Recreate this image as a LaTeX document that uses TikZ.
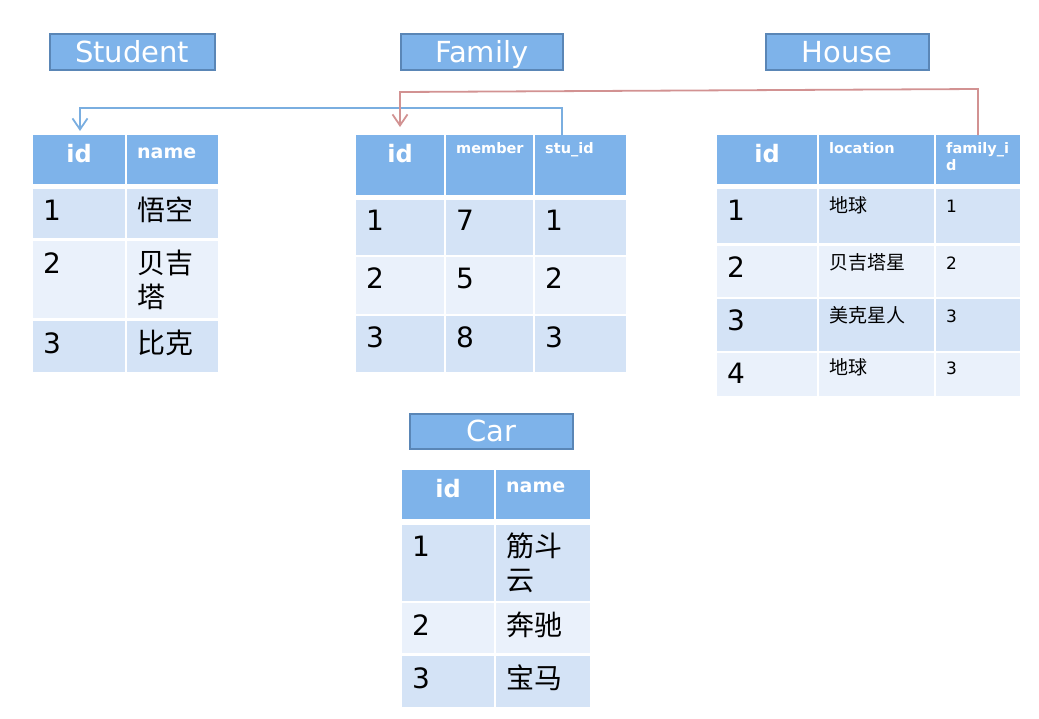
\documentclass[tikz,border=0pt]{standalone}
\usepackage{fontspec}
\setmainfont{DejaVu Sans}
\newfontfamily\cjk{Noto Sans CJK SC}
\usetikzlibrary{arrows.meta}
\definecolor{hdr}{RGB}{126,179,234}
\definecolor{rowa}{RGB}{212,227,246}
\definecolor{rowb}{RGB}{234,241,251}
\definecolor{ttlborder}{RGB}{90,134,182}
\definecolor{fkblue}{RGB}{122,174,224}
\definecolor{fkred}{RGB}{210,146,146}
\tikzset{
  cellbox/.style={rectangle, inner sep=0pt, outer sep=0pt, anchor=north west, draw=none},
  titlebox/.style={rectangle, fill=hdr, draw=ttlborder, line width=1.5pt, inner sep=0pt, anchor=north west,
    text=white, font=\fontsize{29}{34}\selectfont, text height=21pt, text depth=0pt},
  bigtxt/.style={anchor=base west, inner sep=0pt, font=\fontsize{28}{34}\selectfont, align=left},
  smalltxt/.style={anchor=base west, inner sep=0pt, font=\fontsize{17}{21}\selectfont},
  smallcjk/.style={anchor=base west, inner sep=0pt, font=\fontsize{19}{23}\selectfont\cjk},
  hdrid/.style={anchor=base, inner sep=0pt, text=white, font=\bfseries\fontsize{24}{28}\selectfont},
  hdrname/.style={anchor=base west, inner sep=0pt, text=white, font=\bfseries\fontsize{19}{22}\selectfont},
  hdrsmall/.style={anchor=base west, inner sep=0pt, text=white, font=\bfseries\fontsize{14.5}{17}\selectfont, align=left},
  fk/.style={line width=1.8pt, -{Straight Barb[length=11pt,width=15pt,line width=1.8pt]}},
}
% name, x1, y1, x2, y2, fill
\newcommand\mkcell[6]{\node[cellbox, fill=#6, minimum width={(#4-#2)*1pt}, minimum height={(#5-#3)*1pt}] (#1) at (#2,#3) {};}
% name, x1, y1, x2, y2, text
\newcommand\mktitle[6]{\node[titlebox, minimum width={(#4-#2)*1pt}, minimum height={(#5-#3)*1pt}] (#1) at (#2,#3) {#6};}
% cell name, style, baseline offset (of last line), text
\newcommand\celltxt[4]{\node[#2] (#1-t) at ([xshift=10pt,yshift=-#3pt]#1.north west) {#4};}
\newcommand\cellid[2]{\node[hdrid] (#1-t) at ([yshift=-#2pt]#1.north) {id};}
\begin{document}
\begin{tikzpicture}[x=1pt,y=-1pt]
\useasboundingbox (0,0) rectangle (1039,718);

% ---------- titles ----------
\mktitle{t-student}{49}{33}{214}{69}{Student}
\mktitle{t-family}{400}{33}{562}{69}{Family}
\mktitle{t-house}{765}{33}{928}{69}{House}
\mktitle{t-car}{409}{413}{572}{448}{Car}

% ---------- Student ----------
\mkcell{s-h1}{33}{135}{125}{184}{hdr}
\mkcell{s-h2}{127}{135}{218}{184}{hdr}
\mkcell{s-11}{33}{189}{125}{238}{rowa}
\mkcell{s-12}{127}{189}{218}{238}{rowa}
\mkcell{s-21}{33}{241}{125}{318}{rowb}
\mkcell{s-22}{127}{241}{218}{318}{rowb}
\mkcell{s-31}{33}{321}{125}{372}{rowa}
\mkcell{s-32}{127}{321}{218}{372}{rowa}
\cellid{s-h1}{27}
\celltxt{s-h2}{hdrname}{23}{name}
\celltxt{s-11}{bigtxt}{31}{1}
\celltxt{s-12}{bigtxt}{31}{{\cjk 悟空}}
\celltxt{s-21}{bigtxt}{32}{2}
\celltxt{s-22}{bigtxt}{66}{{\cjk 贝吉}\\{\cjk 塔}}
\celltxt{s-31}{bigtxt}{32}{3}
\celltxt{s-32}{bigtxt}{32}{{\cjk 比克}}

% ---------- Family ----------
\mkcell{f-h1}{356}{135}{444}{195}{hdr}
\mkcell{f-h2}{446}{135}{533}{195}{hdr}
\mkcell{f-h3}{535}{135}{626}{195}{hdr}
\mkcell{f-11}{356}{200}{444}{255}{rowa}
\mkcell{f-12}{446}{200}{533}{255}{rowa}
\mkcell{f-13}{535}{200}{626}{255}{rowa}
\mkcell{f-21}{356}{257}{444}{314}{rowb}
\mkcell{f-22}{446}{257}{533}{314}{rowb}
\mkcell{f-23}{535}{257}{626}{314}{rowb}
\mkcell{f-31}{356}{316}{444}{372}{rowa}
\mkcell{f-32}{446}{316}{533}{372}{rowa}
\mkcell{f-33}{535}{316}{626}{372}{rowa}
\cellid{f-h1}{27}
\celltxt{f-h2}{hdrsmall}{18}{member}
\celltxt{f-h3}{hdrsmall}{18}{stu\_id}
\celltxt{f-11}{bigtxt}{30}{1}
\celltxt{f-12}{bigtxt}{30}{7}
\celltxt{f-13}{bigtxt}{30}{1}
\celltxt{f-21}{bigtxt}{31}{2}
\celltxt{f-22}{bigtxt}{31}{5}
\celltxt{f-23}{bigtxt}{31}{2}
\celltxt{f-31}{bigtxt}{31}{3}
\celltxt{f-32}{bigtxt}{31}{8}
\celltxt{f-33}{bigtxt}{31}{3}

% ---------- House ----------
\mkcell{h-h1}{717}{135}{817}{184}{hdr}
\mkcell{h-h2}{819}{135}{934}{184}{hdr}
\mkcell{h-h3}{936}{135}{1020}{184}{hdr}
\mkcell{h-11}{717}{189}{817}{243}{rowa}
\mkcell{h-12}{819}{189}{934}{243}{rowa}
\mkcell{h-13}{936}{189}{1020}{243}{rowa}
\mkcell{h-21}{717}{246}{817}{297}{rowb}
\mkcell{h-22}{819}{246}{934}{297}{rowb}
\mkcell{h-23}{936}{246}{1020}{297}{rowb}
\mkcell{h-31}{717}{299}{817}{351}{rowa}
\mkcell{h-32}{819}{299}{934}{351}{rowa}
\mkcell{h-33}{936}{299}{1020}{351}{rowa}
\mkcell{h-41}{717}{353}{817}{396}{rowb}
\mkcell{h-42}{819}{353}{934}{396}{rowb}
\mkcell{h-43}{936}{353}{1020}{396}{rowb}
\cellid{h-h1}{27}
\celltxt{h-h2}{hdrsmall}{18}{location}
\celltxt{h-h3}{hdrsmall}{35}{family\_i\\d}
\celltxt{h-11}{bigtxt}{31}{1}
\celltxt{h-12}{smallcjk}{23}{地球}
\celltxt{h-13}{smalltxt}{23}{1}
\celltxt{h-21}{bigtxt}{31}{2}
\celltxt{h-22}{smallcjk}{23}{贝吉塔星}
\celltxt{h-23}{smalltxt}{23}{2}
\celltxt{h-31}{bigtxt}{31}{3}
\celltxt{h-32}{smallcjk}{23}{美克星人}
\celltxt{h-33}{smalltxt}{23}{3}
\celltxt{h-41}{bigtxt}{30}{4}
\celltxt{h-42}{smallcjk}{21}{地球}
\celltxt{h-43}{smalltxt}{21}{3}

% ---------- Car ----------
\mkcell{c-h1}{402}{470}{494}{519}{hdr}
\mkcell{c-h2}{496}{470}{590}{519}{hdr}
\mkcell{c-11}{402}{525}{494}{601}{rowa}
\mkcell{c-12}{496}{525}{590}{601}{rowa}
\mkcell{c-21}{402}{603}{494}{653}{rowb}
\mkcell{c-22}{496}{603}{590}{653}{rowb}
\mkcell{c-31}{402}{656}{494}{707}{rowa}
\mkcell{c-32}{496}{656}{590}{707}{rowa}
\cellid{c-h1}{27}
\celltxt{c-h2}{hdrname}{22}{name}
\celltxt{c-11}{bigtxt}{31}{1}
\celltxt{c-12}{bigtxt}{65}{{\cjk 筋斗}\\{\cjk 云}}
\celltxt{c-21}{bigtxt}{32}{2}
\celltxt{c-22}{bigtxt}{32}{{\cjk 奔驰}}
\celltxt{c-31}{bigtxt}{32}{3}
\celltxt{c-32}{bigtxt}{32}{{\cjk 宝马}}

% ---------- connectors ----------
\coordinate (bstart) at (562,135);
\coordinate (bmid) at (80,108);
\coordinate (bend) at (80,131);
\draw[fk, draw=fkblue] (bstart) |- (bmid) -- (bend);
\coordinate (rstart) at (978,135);
\coordinate (rc1) at (978,89);
\coordinate (rc2) at (400,92);
\coordinate (rend) at (400,127);
\draw[fk, draw=fkred] (rstart) -- (rc1) -- (rc2) -- (rend);
\end{tikzpicture}
\end{document}
